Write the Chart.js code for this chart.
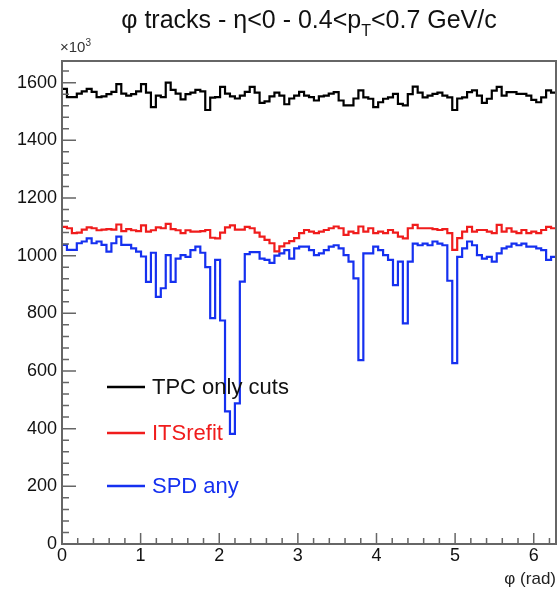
<!DOCTYPE html>
<html>
<head>
<meta charset="utf-8">
<script src="https://cdn.jsdelivr.net/npm/chart.js@4/dist/chart.umd.min.js"></script>
<style>
  body { margin: 0; background: #fff; }
  canvas { display: block; }
</style>
</head>
<body>
<canvas id="phiChart" width="557" height="591"></canvas>
<script>
// phi histogram, 100 bins over [0, 2pi], counts in units of 10^3
const nBins = 100;
const phiMax = 2 * Math.PI;

const tpcOnly = [
  1578, 1550, 1550, 1562, 1570, 1578, 1568, 1550, 1552, 1560,
  1568, 1595, 1562, 1555, 1560, 1570, 1595, 1565, 1515, 1555,
  1550, 1600, 1575, 1562, 1542, 1560, 1565, 1575, 1570, 1505,
  1548, 1550, 1585, 1562, 1552, 1545, 1555, 1568, 1585, 1565,
  1530, 1535, 1552, 1565, 1555, 1525, 1545, 1555, 1568, 1555,
  1550, 1538, 1552, 1555, 1562, 1567, 1538, 1521, 1521, 1545,
  1573, 1549, 1544, 1515, 1532, 1544, 1549, 1561, 1526, 1521,
  1560, 1586, 1565, 1549, 1555, 1561, 1565, 1555, 1549, 1505,
  1545, 1549, 1567, 1573, 1555, 1530, 1544, 1572, 1585, 1555,
  1567, 1567, 1561, 1561, 1555, 1540, 1532, 1549, 1573, 1565
];

const itsRefit = [
  1100, 1095, 1078, 1080, 1090, 1098, 1095, 1088, 1090, 1092,
  1090, 1108, 1085, 1092, 1088, 1085, 1105, 1083, 1088, 1098,
  1095, 1110, 1092, 1088, 1078, 1088, 1083, 1083, 1085, 1089,
  1062, 1060, 1080, 1098, 1105, 1090, 1090, 1100, 1095, 1080,
  1066, 1055, 1043, 1015, 1032, 1043, 1050, 1061, 1078, 1089,
  1083, 1078, 1083, 1089, 1095, 1101, 1095, 1072, 1083, 1078,
  1101, 1083, 1095, 1078, 1083, 1078, 1089, 1080, 1066, 1060,
  1095, 1107, 1095, 1095, 1095, 1092, 1089, 1092, 1078, 1020,
  1061, 1083, 1100, 1083, 1089, 1089, 1083, 1078, 1107, 1083,
  1095, 1083, 1078, 1089, 1078, 1083, 1078, 1089, 1100, 1095
];

const spdAny = [
  1037, 1020, 1020, 1043, 1049, 1060, 1043, 1049, 1037, 1014,
  1043, 1066, 1037, 1037, 1025, 1014, 997, 909, 1010, 857,
  887, 1002, 909, 990, 1002, 996, 1019, 1031, 1010, 960,
  783, 985, 775, 460, 382, 488, 910, 1005, 1012, 1012,
  990, 985, 975, 1000, 1008, 1019, 990, 1025, 1031, 1031,
  1019, 1002, 1008, 1019, 1031, 1036, 1025, 1002, 979, 921,
  638, 1008, 1008, 1031, 1019, 1002, 985, 898, 979, 765,
  979, 1042, 1036, 1042, 1036, 1049, 1042, 1036, 913, 627,
  996, 1025, 1049, 1036, 1002, 990, 996, 979, 1008, 1025,
  1031, 1042, 1036, 1042, 1031, 1031, 1025, 1019, 985, 996
];

const seriesLabels = ['TPC only cuts', 'ITSrefit', 'SPD any'];
const seriesColors = ['#000000', '#f01c1c', '#1530f0'];
const xTickLabels = [0, 1, 2, 3, 4, 5, 6];
const yTickLabels = [0, 200, 400, 600, 800, 1000, 1200, 1400, 1600];

const FONT = "'Liberation Sans', Arial, Helvetica, sans-serif";

// histogram -> step outline points
function stepPoints(values) {
  const w = phiMax / nBins;
  const pts = [];
  values.forEach((v, i) => {
    pts.push({ x: i * w, y: v });
    pts.push({ x: (i + 1) * w, y: v });
  });
  return pts;
}

// ROOT style frame, inward ticks, title and legend
const rootStyle = {
  id: 'rootStyle',
  afterDraw(chart) {
    const ctx = chart.ctx;
    const area = chart.chartArea;
    const xs = chart.scales.x;
    const ys = chart.scales.y;

    ctx.save();
    ctx.strokeStyle = '#666';
    ctx.lineWidth = 2;
    ctx.strokeRect(area.left, area.top, area.right - area.left, area.bottom - area.top);

    ctx.lineWidth = 1.5;
    ctx.beginPath();
    for (let k = 0; k * 0.2 <= phiMax; k++) {
      const px = xs.getPixelForValue(k * 0.2);
      const len = k % 5 === 0 ? 11 : 6;
      ctx.moveTo(px, area.bottom);
      ctx.lineTo(px, area.bottom - len);
    }
    for (let k = 0; k * 40 <= ys.max; k++) {
      const py = ys.getPixelForValue(k * 40);
      const len = k % 5 === 0 ? 14 : 7;
      ctx.moveTo(area.left, py);
      ctx.lineTo(area.left + len, py);
    }
    ctx.stroke();

    // title with subscript
    ctx.fillStyle = '#111';
    ctx.textBaseline = 'alphabetic';
    const big = '25px ' + FONT;
    const small = '16px ' + FONT;
    const partA = '\u03c6 tracks - \u03b7<0 - 0.4<p';
    const partB = 'T';
    const partC = '<0.7 GeV/c';
    ctx.font = big;
    const wA = ctx.measureText(partA).width;
    const wC = ctx.measureText(partC).width;
    ctx.font = small;
    const wB = ctx.measureText(partB).width;
    let tx = 309 - (wA + wB + wC) / 2;
    ctx.font = big;
    ctx.fillText(partA, tx, 28);
    tx += wA;
    ctx.font = small;
    ctx.fillText(partB, tx, 36);
    tx += wB;
    ctx.font = big;
    ctx.fillText(partC, tx, 28);

    // x10^3 multiplier
    ctx.fillStyle = '#333';
    ctx.font = '15px ' + FONT;
    ctx.fillText('\u00d710', 60, 52);
    const wm = ctx.measureText('\u00d710').width;
    ctx.font = '10px ' + FONT;
    ctx.fillText('3', 60 + wm, 46);

    // axis title
    ctx.fillStyle = '#222';
    ctx.font = '17px ' + FONT;
    ctx.textAlign = 'right';
    ctx.fillText('\u03c6 (rad)', 556, 584);

    // legend
    ctx.textAlign = 'left';
    ctx.textBaseline = 'middle';
    ctx.font = '22px ' + FONT;
    const rows = [387, 433, 486];
    chart.data.datasets.forEach((ds, i) => {
      ctx.strokeStyle = ds.borderColor;
      ctx.lineWidth = 2.5;
      ctx.beginPath();
      ctx.moveTo(107, rows[i]);
      ctx.lineTo(145, rows[i]);
      ctx.stroke();
      ctx.fillStyle = i === 0 ? '#111' : ds.borderColor;
      ctx.fillText(ds.label, 152, rows[i] + 1);
    });
    ctx.restore();
  }
};

new Chart(document.getElementById('phiChart').getContext('2d'), {
  type: 'line',
  data: {
    datasets: [tpcOnly, itsRefit, spdAny].map((vals, i) => ({
      label: seriesLabels[i],
      data: stepPoints(vals),
      borderColor: seriesColors[i],
      borderWidth: 2.2,
      pointRadius: 0,
      tension: 0,
      fill: false
    }))
  },
  options: {
    responsive: false,
    animation: false,
    layout: { padding: { top: 61, right: 1, left: 0, bottom: 0 } },
    plugins: {
      legend: { display: false },
      title: { display: false },
      tooltip: { enabled: false }
    },
    scales: {
      x: {
        type: 'linear',
        min: 0,
        max: phiMax,
        grid: { display: false, drawTicks: false },
        border: { display: false },
        afterBuildTicks: (s) => { s.ticks = xTickLabels.map(v => ({ value: v })); },
        afterFit: (s) => { s.height = 47; },
        ticks: {
          padding: 1,
          maxRotation: 0,
          autoSkip: false,
          color: '#111',
          font: { family: FONT, size: 18 },
          callback: (v) => String(v)
        }
      },
      y: {
        min: 0,
        max: 1675,
        grid: { display: false, drawTicks: false },
        border: { display: false },
        afterBuildTicks: (s) => { s.ticks = yTickLabels.map(v => ({ value: v })); },
        afterFit: (s) => { s.width = 62; },
        ticks: {
          padding: 5,
          autoSkip: false,
          color: '#111',
          font: { family: FONT, size: 18 },
          callback: (v) => String(v)
        }
      }
    }
  },
  plugins: [rootStyle]
});
</script>
</body>
</html>
